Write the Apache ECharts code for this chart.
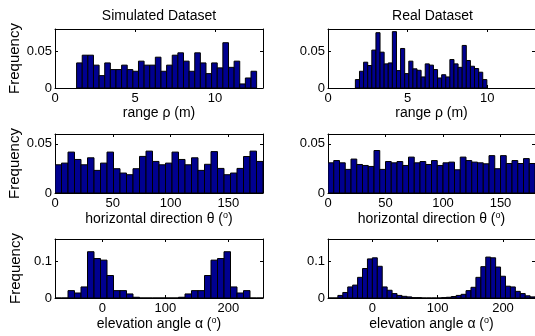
<!DOCTYPE html>
<html>
<head>
<meta charset="utf-8">
<script src="https://cdn.jsdelivr.net/npm/echarts@6/dist/echarts.min.js"></script>
<style>
html,body{margin:0;padding:0;background:#fff;}
#chart{width:535px;height:336px;}
</style>
</head>
<body>
<div id="chart"></div>
<script>
// ---------- data ----------
const titles = ['Simulated Dataset', 'Real Dataset'];
const yLabel = 'Frequency';

// range rho (m)
const rangeTicks = [0, 5, 10];
const rangeYTicks = [0, 0.05];
const simRangeStart = 1.35, simRangeWidth = 0.3516;
const simRangeFreq = [0.034,0.0445,0.0445,0.031,0.0168,0.034,0.025,0.025,0.031,0.025,0.0227,0.0364,0.031,0.031,0.0418,0.0227,0.031,0.0445,0.0477,0.0364,0.0227,0.0477,0.034,0.0195,0.034,0.0273,0.0614,0.028,0.0364,0.0055,0.0136,0.0227];
const realRangeStart = 1.72, realRangeWidth = 0.258;
const realRangeFreq = [0.0114,0.0227,0.035,0.0305,0.0514,0.075,0.0486,0.0327,0.034,0.0764,0.0236,0.0536,0.0195,0.0364,0.026,0.024,0.015,0.0327,0.031,0.025,0.0136,0.018,0.015,0.0386,0.0327,0.028,0.0577,0.0373,0.0295,0.0264,0.0214,0.0114];

// horizontal direction theta (deg)
const dirTicks = [0, 50, 100, 150];
const dirYTicks = [0, 0.05];
const simDirStart = 0, simDirWidth = 5.625;
const simDirFreq = [0.0287,0.0304,0.0416,0.0341,0.0287,0.0358,0.023,0.0304,0.0416,0.0247,0.0203,0.0186,0.0247,0.0372,0.0426,0.0321,0.0287,0.0304,0.0416,0.0341,0.0287,0.0358,0.023,0.0292,0.0421,0.025,0.0186,0.0203,0.025,0.0371,0.0426,0.0321];
const realDirStart = 0, realDirWidth = 5;
const realDirFreq = [0.0307,0.033,0.0307,0.024,0.0345,0.029,0.028,0.027,0.0432,0.024,0.032,0.0307,0.032,0.028,0.0365,0.0307,0.032,0.029,0.033,0.028,0.0307,0.0314,0.0236,0.0365,0.033,0.0314,0.0307,0.0297,0.038,0.0247,0.038,0.03,0.033,0.03,0.035,0.03];

// elevation angle alpha (deg)
const elevTicks = [0, 100, 200];
const elevYTicks = [0, 0.1];
const simElevStart = -75, simElevWidth = 10.3125;
const simElevFreq = [0,0,0.02,0.0136,0.03,0.1255,0.107,0.1027,0.061,0.02,0.02,0.011,0.002,0,0,0,0,0,0,0.002,0.011,0.02,0.02,0.061,0.1027,0.107,0.1255,0.03,0.0136,0.02,0,0];
const realElevStart = -68, realElevWidth = 7.55;
const realElevFreq = [0,0,0.007,0.015,0.03,0.035,0.056,0.08,0.106,0.109,0.086,0.03,0.021,0.012,0.007,0.0045,0.003,0.001,0.001,0,0,0,0,0.001,0.002,0.004,0.007,0.01,0.02,0.029,0.056,0.085,0.111,0.109,0.084,0.059,0.032,0.03,0.018,0.012,0.006,0.003];

// ---------- layout ----------
const FONT = 'Liberation Sans, Arial, Helvetica, sans-serif';
const colLeft = [55, 328], colWidth = [208, 209];
const rowTop = [29, 134, 239], rowHeight = 59;

const panels = [
  {row:0,col:0,start:simRangeStart,width:simRangeWidth,freq:simRangeFreq,xmin:0,xmax:13,xt:rangeTicks,ymax:0.08,yt:rangeYTicks,name:'{a|range ρ (m)}'},
  {row:0,col:1,start:realRangeStart,width:realRangeWidth,freq:realRangeFreq,xmin:0,xmax:13,xt:rangeTicks,ymax:0.08,yt:rangeYTicks,name:'{a|range ρ (m)}'},
  {row:1,col:0,start:simDirStart,width:simDirWidth,freq:simDirFreq,xmin:0,xmax:180,xt:dirTicks,ymax:0.06,yt:dirYTicks,name:'{a|horizontal direction θ (}{s|o}{a|)}'},
  {row:1,col:1,start:realDirStart,width:realDirWidth,freq:realDirFreq,xmin:0,xmax:180,xt:dirTicks,ymax:0.06,yt:dirYTicks,name:'{a|horizontal direction θ (}{s|o}{a|)}'},
  {row:2,col:0,start:simElevStart,width:simElevWidth,freq:simElevFreq,xmin:-75,xmax:255,xt:elevTicks,ymax:0.16,yt:elevYTicks,name:'{a|elevation angle α (}{s|o}{a|)}'},
  {row:2,col:1,start:realElevStart,width:realElevWidth,freq:realElevFreq,xmin:-68,xmax:249,xt:elevTicks,ymax:0.16,yt:elevYTicks,name:'{a|elevation angle α (}{s|o}{a|)}'}
];

const grid = [], xAxis = [], yAxis = [], series = [];
const lineStyle = {color:'#000', width:1};
const labelStyle = {color:'#000', fontSize:13, fontFamily:FONT};

panels.forEach(function(p, i){
  grid.push({left: colLeft[p.col], top: rowTop[p.row], width: colWidth[p.col], height: rowHeight, containLabel:false});
  xAxis.push({type:'value', gridIndex:i, position:'bottom', min:p.xmin, max:p.xmax,
    axisLine:{show:true, onZero:false, lineStyle:lineStyle},
    axisTick:{show:true, inside:true, length:3, customValues:p.xt, lineStyle:lineStyle},
    axisLabel:{show:true, customValues:p.xt, margin:4, ...labelStyle},
    splitLine:{show:false},
    name:p.name, nameLocation:'middle', nameGap:16,
    nameTextStyle:{color:'#000', fontFamily:FONT, rich:{a:{fontSize:14, color:'#000', fontFamily:FONT, lineHeight:16}, s:{fontSize:9, color:'#000', fontFamily:FONT, verticalAlign:'top', lineHeight:16}}}
  });
  xAxis.push({type:'value', gridIndex:i, position:'top', min:p.xmin, max:p.xmax,
    axisLine:{show:true, onZero:false, lineStyle:lineStyle},
    axisTick:{show:true, inside:true, length:3, customValues:p.xt, lineStyle:lineStyle},
    axisLabel:{show:false}, splitLine:{show:false}
  });
  const ly = {type:'value', gridIndex:i, position:'left', min:0, max:p.ymax,
    axisLine:{show:true, onZero:false, lineStyle:lineStyle},
    axisTick:{show:true, inside:true, length:3, customValues:p.yt, lineStyle:lineStyle},
    axisLabel:{show:true, customValues:p.yt, margin:3, ...labelStyle},
    splitLine:{show:false}
  };
  if (p.col === 0) {
    ly.name = yLabel; ly.nameLocation = 'middle'; ly.nameGap = 32;
    ly.nameTextStyle = {color:'#000', fontSize:15, fontFamily:FONT};
  }
  yAxis.push(ly);
  yAxis.push({type:'value', gridIndex:i, position:'right', min:0, max:p.ymax,
    axisLine:{show:true, onZero:false, lineStyle:lineStyle},
    axisTick:{show:true, inside:true, length:3, customValues:p.yt, lineStyle:lineStyle},
    axisLabel:{show:false}, splitLine:{show:false}
  });
  const data = p.freq.map(function(f, k){ return [p.start + k*p.width, p.start + (k+1)*p.width, f]; });
  series.push({type:'custom', xAxisIndex:2*i, yAxisIndex:2*i, data:data, clip:true, silent:true,
    encode:{x:[0,1], y:2},
    renderItem:function(params, api){
      const a = api.coord([api.value(0), 0]);
      const b = api.coord([api.value(1), api.value(2)]);
      return {type:'rect', shape:{x:a[0], y:b[1], width:b[0]-a[0], height:a[1]-b[1]},
        style:{fill:'#000090', stroke:'#000', lineWidth:1}};
    }
  });
});

const graphic = titles.map(function(t, c){
  return {type:'text', x: colLeft[c] + colWidth[c]/2, y: 16,
    style:{text:t, fill:'#000', font:'14px ' + FONT, textAlign:'center', textVerticalAlign:'middle'}};
});

const chart = echarts.init(document.getElementById('chart'), null, {renderer:'canvas'});
chart.setOption({animation:false, backgroundColor:'#fff', grid:grid, xAxis:xAxis, yAxis:yAxis, series:series, graphic:graphic});
</script>
</body>
</html>
